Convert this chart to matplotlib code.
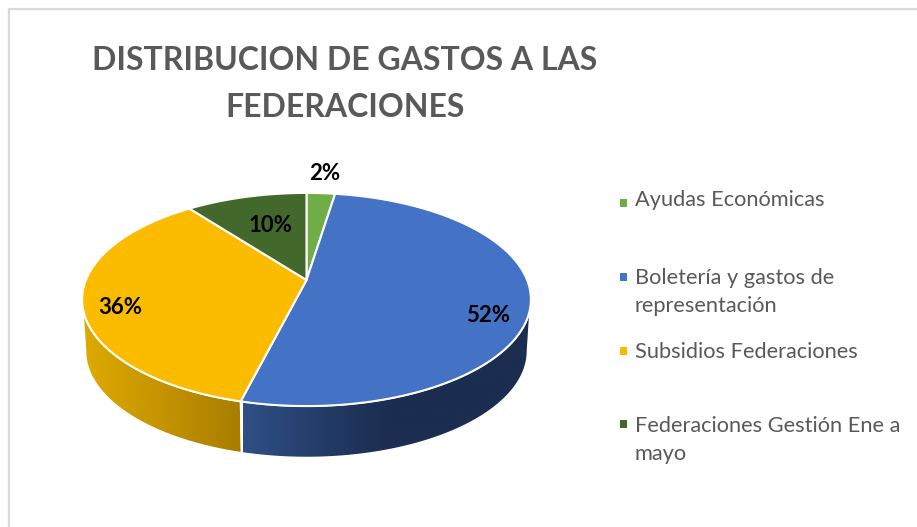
import numpy as np
import matplotlib
matplotlib.use("Agg")
import matplotlib.pyplot as plt
from matplotlib.patches import Polygon, Rectangle
from matplotlib.colors import LinearSegmentedColormap

title_lines = ["DISTRIBUCION DE GASTOS A LAS", "FEDERACIONES"]
categories = ["Ayudas Económicas", "Boletería y gastos de\nrepresentación",
              "Subsidios Federaciones", "Federaciones Gestión Ene a\nmayo"]
shares = [2.45, 51.5, 35.65, 10.4]
pct_labels = ["2%", "52%", "36%", "10%"]
colors = ["#70AD47", "#4472C4", "#FBBC00", "#43682B"]

plt.rcParams['font.family'] = ['Lato', 'DejaVu Sans']
fig = plt.figure(figsize=(9.17, 5.27), dpi=100, facecolor="white")
ax = fig.add_axes([0, 0, 1, 1])
ax.set_xlim(0, 917)
ax.set_ylim(527, 0)
ax.axis("off")

# projection of the tilted disc on to the page
CX, CY, A, B, K = 306.5, 280.0, 220.6, 103.0, 0.183
DEPTH, SHRINK = 51.5, 0.985


def top_xy(theta):
    u, v = np.sin(theta), np.cos(theta)
    d = 1 + K * v
    return CX + A * u / d, CY - B * v / d


def low_xy(theta):
    x, y = top_xy(theta)
    return CX + SHRINK * (x - CX), y + DEPTH


edges = np.radians(np.concatenate([[0], np.cumsum(shares)]) * 3.6)
front_a, front_b = np.radians(100.5), np.radians(259.5)

# walls with gradient
wall_styles = {
    1: (["#2F4F85", "#1B2D50", "#1B2D50"], 243, 531),
    2: (["#DEAA00", "#A87C00"], 84, 244),
}
for i, (cols, x0, x1) in wall_styles.items():
    a, b = max(edges[i], front_a), min(edges[i + 1], front_b)
    t = np.linspace(a, b, 160)
    xt, yt = top_xy(t)
    xl, yl = low_xy(t)
    pts = np.column_stack([np.r_[xt, xl[::-1]], np.r_[yt, yl[::-1]]])
    poly = Polygon(pts, closed=True, transform=ax.transData, fc="none", ec="none")
    ax.add_patch(poly)
    cmap = LinearSegmentedColormap.from_list("w", cols)
    im = ax.imshow(np.linspace(0, 1, 256)[None, :], cmap=cmap, aspect="auto",
                   extent=(x0, x1, 470, 280), zorder=2, interpolation="bilinear")
    im.set_clip_path(poly)
    ax.add_patch(Polygon(pts, closed=True, fc="none", ec="white", lw=1.2, zorder=3))

# top face
for i, c in enumerate(colors):
    t = np.linspace(edges[i], edges[i + 1], 200)
    x, y = top_xy(t)
    pts = np.column_stack([np.r_[CX, x], np.r_[CY, y]])
    ax.add_patch(Polygon(pts, closed=True, fc=c, ec="white", lw=1.5, zorder=4,
                         joinstyle="round"))

ax.set_xlim(0, 917)
ax.set_ylim(527, 0)

# frame
frame = "#D9D9D9"
ax.plot([8.5, 8.5, 917], [527, 8.5, 8.5], color=frame, lw=1.6, zorder=1,
        solid_joinstyle="miter")

# title
for s, yy in zip(title_lines, [60.5, 107.5]):
    ax.text(345, yy, s, ha="center", va="center", fontsize=23, fontweight="bold",
            color="#595959", zorder=6)

# percent labels
for s, (xx, yy) in zip(pct_labels, [(325, 173), (488, 315), (120, 308), (270, 225)]):
    ax.text(xx, yy, s, ha="center", va="center", fontsize=16, fontweight="bold",
            color="black", zorder=6)

# legend
leg_y = [[199.5], [277.5, 306.5], [351.5], [425.5, 454.5]]
marker_top = [199, 273, 347, 420]
for cat, c, ys, mt in zip(categories, colors, leg_y, marker_top):
    ax.add_patch(Rectangle((619.5, mt), 7.5, 7.5, fc=c, ec="none", zorder=5))
    for line, yy in zip(cat.split("\n"), ys):
        ax.text(635, yy, line, ha="left", va="center", fontsize=15.7,
                color="#595959", zorder=6)

fig.savefig("out.png", dpi=100, facecolor="white")
